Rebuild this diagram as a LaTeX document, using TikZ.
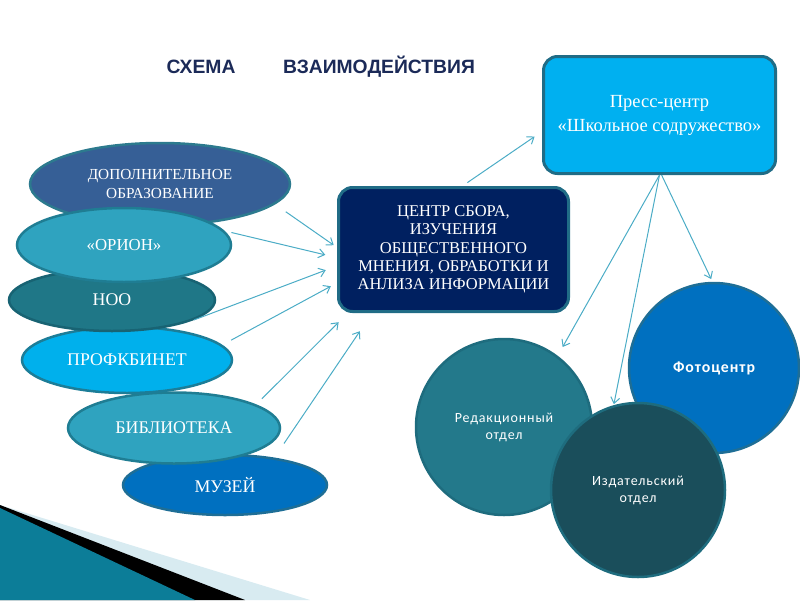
\documentclass[tikz,border=0pt]{standalone}
\usepackage{fontspec}
\setmainfont{Liberation Serif}
\newfontfamily\headfont{Liberation Sans}
\newfontfamily\roundfont[LetterSpace=6]{Carlito}
\usetikzlibrary{shapes.geometric,arrows.meta}
\definecolor{arrblue}{HTML}{4BACC6}
\definecolor{dopfill}{HTML}{365F96}
\definecolor{dopline}{HTML}{2C7A8E}
\definecolor{orifill}{HTML}{2FA3BF}
\definecolor{oriline}{HTML}{1F7D93}
\definecolor{noofill}{HTML}{1F7787}
\definecolor{nooline}{HTML}{186373}
\definecolor{proffill}{HTML}{00B0EC}
\definecolor{profline}{HTML}{1C7D98}
\definecolor{muzfill}{HTML}{0070C0}
\definecolor{muzline}{HTML}{1E6E96}
\definecolor{navyfill}{HTML}{002060}
\definecolor{boxline}{HTML}{206C86}
\definecolor{pressfill}{HTML}{00B0F0}
\definecolor{redfill}{HTML}{23798B}
\definecolor{redline}{HTML}{1E6C7E}
\definecolor{izdfill}{HTML}{1A4E5B}
\definecolor{titlecol}{HTML}{1B2A58}
\definecolor{bandlight}{HTML}{D8EBF1}
\definecolor{bandteal}{HTML}{0C7D98}
\definecolor{bandsky}{HTML}{5BB8D6}
\begin{document}
\begin{tikzpicture}[x=1pt, y=-1pt,
  oval/.style={ellipse, inner sep=0pt, line width=2.5pt, text=white, align=center, font=\fontsize{17.8}{19}\selectfont},
  panel/.style={rectangle, rounded corners=14pt, inner sep=0pt, line width=3pt, text=white, align=center},
  disc/.style={circle, inner sep=0pt, line width=2.5pt, text=white, align=center, font=\roundfont\fontsize{14}{17}\selectfont},
  heading/.style={font=\headfont\bfseries\fontsize{19.3}{21}\selectfont, text=titlecol},
  arr/.style={draw=arrblue, line width=1pt, -{Straight Barb[length=6pt,width=9pt]}}]
\useasboundingbox (0,0) rectangle (800,600);

% band in the lower left corner
\fill[bandlight] (0,505) -- (310,600) -- (0,600) -- cycle;
\fill[black] (0,505) -- (245,600) -- (0,600) -- cycle;
\shade[left color=bandteal, middle color=bandsky, right color=bandteal] (0,508) -- (195,600) -- (0,600) -- cycle;

% title
\node[heading] (ttla) at (201,67) {СХЕМА};
\node[heading] (ttlb) at (379,67) {ВЗАИМОДЕЙСТВИЯ};

% left side
\node[oval, fill=muzfill, draw=muzline, minimum width=204, minimum height=60] (muz) at (225,485) {МУЗЕЙ};
\node[oval, fill=orifill, draw=oriline, minimum width=212, minimum height=71] (bibl) at (174,428) {БИБЛИОТЕКА};
\node[oval, fill=proffill, draw=profline, minimum width=210, minimum height=66] (prof) at (127,360) {ПРОФКБИНЕТ};
\node[oval, fill=dopfill, draw=dopline, minimum width=260, minimum height=82, font=\fontsize{15.3}{18.5}\selectfont] (dop) at (160,184) {ДОПОЛНИТЕЛЬНОЕ\\ОБРАЗОВАНИЕ};
\node[oval, fill=noofill, draw=nooline, minimum width=206, minimum height=62] (noo) at (112,300) {НОО};
\node[oval, fill=orifill, draw=oriline, minimum width=214, minimum height=74, font=\fontsize{16.8}{18}\selectfont] (orion) at (124,245) {«ОРИОН»};

% centre and press
\node[panel, fill=navyfill, draw=boxline, minimum width=230, minimum height=124, font=\fontsize{16.5}{18.3}\selectfont] (cent) at (453.5,249.5) {ЦЕНТР СБОРА,\\ИЗУЧЕНИЯ\\ОБЩЕСТВЕННОГО\\МНЕНИЯ, ОБРАБОТКИ И\\АНЛИЗА ИНФОРМАЦИИ};
\node[panel, fill=pressfill, draw=boxline, minimum width=232, minimum height=117, font=\fontsize{18.5}{24}\selectfont] (press) at (659.5,115) {Пресс-центр\\«Школьное содружество»};

% right side
\node[disc, fill=muzfill, draw=muzline, minimum size=170, font=\roundfont\bfseries\fontsize{15.8}{17}\selectfont] (foto) at (714,368) {Фотоцентр};
\node[disc, fill=redfill, draw=redline, minimum size=176] (red) at (504,427) {Редакционный\\отдел};
\node[disc, fill=izdfill, draw=redline, minimum size=174] (izd) at (638,490) {Издательский\\отдел};

% arrows
\draw[arr, shorten <=13pt, shorten >=4pt] (dop.-10) -- (cent.179);
\draw[arr, shorten <=7pt, shorten >=12pt] (orion.8) -- (cent.184);
\draw[arr, shorten <=1pt, shorten >=12pt] (noo.-14) -- (cent.188);
\draw[arr, shorten <=10pt, shorten >=7pt] (prof.9) -- (cent.196);
\draw[arr, shorten <=8pt, shorten >=13pt] (bibl.16) -- (cent.211);
\draw[arr, shorten <=17pt, shorten >=22pt] (muz.29) -- (cent.218);
\draw[arr, shorten <=6pt, shorten >=9pt] (cent.82) -- (press.188);
\draw[arr, shorten >=10pt] (press.south) -- (red.53);
\draw[arr, shorten >=1pt] (press.south) -- (izd.106);
\draw[arr, shorten >=3pt] (press.-88) -- (foto.91);
\end{tikzpicture}
\end{document}
